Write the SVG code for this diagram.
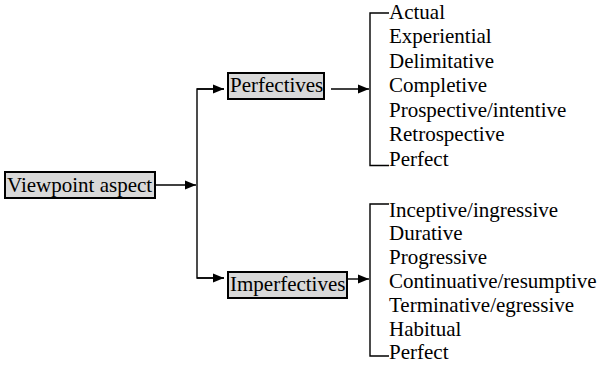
<svg xmlns="http://www.w3.org/2000/svg" width="601" height="371" viewBox="0 0 601 371">
<style>
.box{fill:#d9d9d9;stroke:#000;stroke-width:2}
.c{fill:none;stroke:#000;stroke-width:1.4}
.t{font-family:"Liberation Serif","Times New Roman",serif;font-size:21px;fill:#000}
</style>
<defs>
<marker id="ah" markerUnits="userSpaceOnUse" markerWidth="12" markerHeight="10" refX="11" refY="5" orient="auto">
<path d="M0,0.5 L11,5 L0,9.5 z" fill="#000"/>
</marker>
</defs>
<g class="t">
<g id="viewpoint"><rect class="box" x="5" y="172" width="150" height="26"/><text x="7" y="192">Viewpoint aspect</text></g>
<g id="perfectives"><rect class="box" x="228" y="73" width="96" height="26"/><text x="230" y="92">Perfectives</text></g>
<g id="imperfectives"><rect class="box" x="228" y="272" width="119" height="26"/><text x="230" y="291">Imperfectives</text></g>
<g id="perfective-list">
<text x="389" y="18.5">Actual</text>
<text x="389" y="43">Experiential</text>
<text x="389" y="67.5">Delimitative</text>
<text x="389" y="92">Completive</text>
<text x="389" y="116.5">Prospective/intentive</text>
<text x="389" y="141">Retrospective</text>
<text x="389" y="165.5">Perfect</text>
</g>
<g id="imperfective-list">
<text x="389" y="216.5">Inceptive/ingressive</text>
<text x="389" y="240.3">Durative</text>
<text x="389" y="264.1">Progressive</text>
<text x="389" y="287.9">Continuative/resumptive</text>
<text x="389" y="311.7">Terminative/egressive</text>
<text x="389" y="335.5">Habitual</text>
<text x="389" y="359.3">Perfect</text>
</g>
</g>
<g id="connectors">
<line class="c" x1="155" y1="185" x2="196" y2="185" marker-end="url(#ah)"/>
<polyline class="c" points="224,89 197,89 197,278 224,278"/>
<line class="c" x1="197" y1="89" x2="224" y2="89" marker-end="url(#ah)"/>
<line class="c" x1="197" y1="278" x2="224" y2="278" marker-end="url(#ah)"/>
<line class="c" x1="331" y1="89" x2="369" y2="89" marker-end="url(#ah)"/>
<line class="c" x1="347" y1="279" x2="369" y2="279" marker-end="url(#ah)"/>
<polyline class="c" points="389,13 370,13 370,165.5 389,165.5"/>
<polyline class="c" points="389,204 370,204 370,356 389,356"/>
</g>
</svg>
